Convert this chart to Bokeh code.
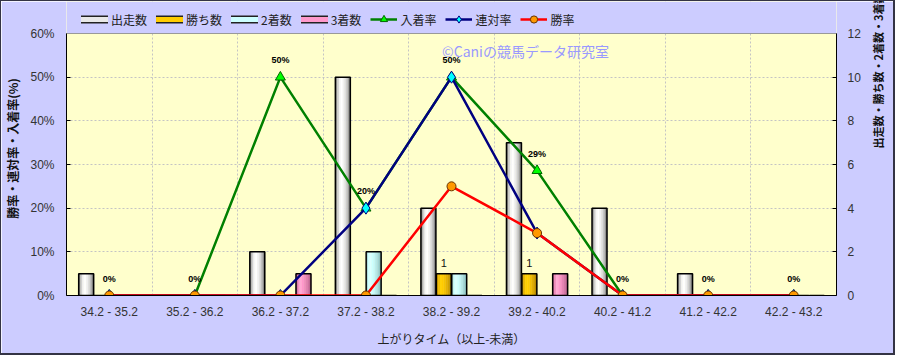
import numpy as np
from bokeh.plotting import figure
from bokeh.models import (Range1d, LinearAxis, FixedTicker, Legend, LegendItem, Label,
                          ColumnDataSource, LabelSet, CustomJSTickFormatter, PrintfTickFormatter,
                          BoxAnnotation, Span)
from bokeh.transform import dodge
from bokeh.core.properties import value
from bokeh.embed import file_html
from bokeh.resources import INLINE

# ---------------- data ----------------
categories = ["34.2 - 35.2", "35.2 - 36.2", "36.2 - 37.2", "37.2 - 38.2", "38.2 - 39.2",
              "39.2 - 40.2", "40.2 - 41.2", "41.2 - 42.2", "42.2 - 43.2"]
runs = [1, 0, 2, 10, 4, 7, 4, 1, 0]          # 出走数
wins = [0, 0, 0, 0, 1, 1, 0, 0, 0]           # 勝ち数
seconds = [0, 0, 0, 2, 1, 0, 0, 0, 0]        # 2着数
thirds = [0, 0, 1, 0, 0, 1, 0, 0, 0]         # 3着数
place_rate = [0, 0, 50, 20, 50, 28.6, 0, 0, 0]     # 入着率 (%)
quinella_rate = [0, 0, 0, 20, 50, 14.3, 0, 0, 0]   # 連対率 (%)
win_rate = [0, 0, 0, 0, 25, 14.3, 0, 0, 0]         # 勝率 (%)
place_labels = ["0%", "0%", "50%", "20%", "50%", "29%", "0%", "0%", "0%"]
win_labels = ["1" if w > 0 else "" for w in wins]

left_ticks = [0, 10, 20, 30, 40, 50, 60]
right_ticks = [0, 2, 4, 6, 8, 10, 12]
PCT_MAX = 60
CNT_MAX = 12

xpos = list(np.arange(len(categories)) + 0.5)
src = ColumnDataSource(dict(x=xpos, runs=runs, wins=wins, seconds=seconds, thirds=thirds,
                            place=place_rate, quin=quinella_rate, win=win_rate,
                            plabel=place_labels, wlabel=win_labels))

JP = "Noto Sans CJK JP"
NUM = "Liberation Sans"

# frame extends to the canvas top so the legend row sits inside it
FRAME_H = 294.0
PLOT_H = 262.0
top_pct = PCT_MAX * FRAME_H / PLOT_H
top_cnt = CNT_MAX * FRAME_H / PLOT_H

p = figure(width=895, height=355, x_range=Range1d(0, len(categories)),
           y_range=Range1d(0, top_pct),
           output_backend="svg", toolbar_location=None,
           min_border_left=64, min_border_right=52, min_border_top=0, min_border_bottom=61,
           background_fill_color="#FFFFCC", border_fill_color="#CCCCFF")
p.styles = {"border-left": "1px solid #333344", "border-top": "1px solid #333344",
            "border-right": "2px solid #333344", "border-bottom": "2px solid #333344"}
p.outline_line_color = None
p.extra_y_ranges = {"count": Range1d(0, top_cnt)}

# grids
p.xgrid.ticker = FixedTicker(ticks=list(range(len(categories) + 1)))
p.ygrid.ticker = FixedTicker(ticks=left_ticks)
for g in (p.xgrid, p.ygrid):
    g.grid_line_color = "#C4C4C4"
    g.grid_line_dash = "2 2"
    g.grid_line_width = 1

# lavender band above the plotting area (covers grid lines)
p.add_layout(BoxAnnotation(bottom=PCT_MAX, fill_color="#CCCCFF", fill_alpha=1,
                           line_color=None, level="underlay"))
p.add_layout(Span(location=PCT_MAX, dimension="width", line_color="#999999", line_width=1))

# axes
xa = p.xaxis[0]
xa.ticker = FixedTicker(ticks=xpos)
xa.formatter = CustomJSTickFormatter(args=dict(labels=categories),
                                     code="return labels[Math.floor(tick)]")
xa.major_tick_in = 0
xa.major_tick_out = 0
xa.minor_tick_line_color = None
xa.axis_line_color = "black"
xa.major_label_standoff = 9
xa.major_label_text_font = NUM
xa.major_label_text_font_size = "12px"
xa.major_label_text_color = "#333333"
xa.axis_label = "上がりタイム（以上-未満）"
xa.axis_label_text_font = JP
xa.axis_label_text_font_size = "12px"
xa.axis_label_text_font_style = "normal"
xa.axis_label_text_color = "#222222"
xa.axis_label_standoff = 8

ya = p.yaxis[0]
ya.ticker = FixedTicker(ticks=left_ticks)
ya.bounds = (0, PCT_MAX)
ya.formatter = PrintfTickFormatter(format="%d%%")
ya.major_tick_in = 4
ya.major_tick_out = 0
ya.minor_tick_line_color = None
ya.axis_line_color = "black"
ya.major_label_standoff = 12
ya.major_label_text_font = NUM
ya.major_label_text_font_size = "12px"
ya.major_label_text_color = "#333333"
ya.axis_label = "勝率・連対率・入着率(%)"
ya.axis_label_text_font = JP
ya.axis_label_text_font_size = "12px"
ya.axis_label_text_font_style = "bold"
ya.axis_label_text_color = "#111111"
ya.axis_label_standoff = 6

ra = LinearAxis(y_range_name="count", ticker=FixedTicker(ticks=right_ticks))
ra.bounds = (0, CNT_MAX)
ra.major_tick_in = 4
ra.major_tick_out = 0
ra.minor_tick_line_color = None
ra.axis_line_color = "black"
ra.major_label_standoff = 11
ra.major_label_text_font = NUM
ra.major_label_text_font_size = "12px"
ra.major_label_text_color = "#333333"
# centred on the axis mid-point, reading upward; trailing ideographic spaces push it down
ra.axis_label = "出走数・勝ち数・2着数・3着数" + "\u3000" * 4
ra.axis_label_text_font = JP
ra.axis_label_text_font_size = "11px"
ra.axis_label_text_font_style = "bold"
ra.axis_label_text_color = "#111111"
ra.axis_label_text_align = "center"
ra.axis_label_standoff = 14
if hasattr(ra, "axis_label_orientation"):
    ra.axis_label_orientation = np.pi / 2
p.add_layout(ra, "right")

# ---------------- bars with cylinder-like shading ----------------
bw = 0.175
bar_specs = [
    ("runs", -0.27, ["#8c8c8c", "#cfcfcf", "#f6f6f6", "#ffffff", "#f2f2f2", "#dedede", "#c0c0c0", "#8a8a8a"], "#e8e8e8"),
    ("wins", -0.09, ["#c89600", "#eebb00", "#ffd000", "#ffcc00", "#f6c300", "#e8b400", "#d6a400", "#b88c00"], "#ffcc00"),
    ("seconds", 0.09, ["#a8d8d8", "#d0ffff", "#dcffff", "#ccffff", "#c4f6f6", "#b6e8e8", "#a6d8d8", "#8cc0c0"], "#ccffff"),
    ("thirds", 0.27, ["#cc6699", "#f28ec0", "#ffaad6", "#ff99cc", "#f590c2", "#e684b4", "#d676a6", "#ba6290"], "#ff99cc"),
]
n_strips = 8
for col, off, shades, _ in bar_specs:
    for k, c in enumerate(shades):
        sx = off - bw / 2 + (k + 0.5) * bw / n_strips
        p.vbar(x=dodge("x", sx, range=p.x_range), top=col, width=bw / n_strips, bottom=0,
               source=src, y_range_name="count", fill_color=c, line_color=c, line_width=0.4)
    p.vbar(x=dodge("x", off, range=p.x_range), top=col, width=bw, bottom=0, source=src,
           y_range_name="count", fill_color=None, line_color="black", line_width=1.5)

# win count labels
p.add_layout(LabelSet(x=dodge("x", -0.09, range=p.x_range), y="wins", text="wlabel", source=src,
                      y_range_name="count", y_offset=7, text_align="center",
                      text_font=value(NUM), text_font_size="11px", text_color="#111111"))

# ---------------- lines ----------------
g_line = p.line("x", "place", source=src, line_color="#008000", line_width=2.5)
g_mark = p.scatter("x", "place", source=src, marker="triangle", size=10,
                   fill_color="#00FF00", line_color="#006600", line_width=1)
b_line = p.line("x", "quin", source=src, line_color="#000080", line_width=2.5)
b_mark = p.scatter("x", "quin", source=src, marker="diamond", size=12,
                   fill_color="#00FFFF", line_color="#000080", line_width=1)
r_line = p.line("x", "win", source=src, line_color="#FF0000", line_width=2.5)
r_mark = p.scatter("x", "win", source=src, marker="circle", size=9,
                   fill_color="#FF9900", line_color="#663300", line_width=1)

p.add_layout(LabelSet(x="x", y="place", text="plabel", source=src, y_offset=12,
                      text_align="center", text_font=value(NUM), text_font_size="9px",
                      text_font_style="bold", text_color="black"))

# watermark
p.add_layout(Label(x=4.39, y=56.1, text="©Caniの競馬データ研究室", text_font=JP,
                   text_font_size="14px", text_color="#9999FF", text_baseline="middle"))

# ---------------- legend ----------------
items = []
for (col, off, shades, mid), name in zip(bar_specs, ["出走数", "勝ち数", "2着数", "3着数"]):
    edge = p.line(x=[np.nan], y=[np.nan], line_color="#222222", line_width=8, line_cap="round")
    fill = p.line(x=[np.nan], y=[np.nan], line_color=mid, line_width=5, line_cap="round")
    items.append(LegendItem(label=name, renderers=[edge, fill]))
items.append(LegendItem(label="入着率", renderers=[g_line, g_mark]))
items.append(LegendItem(label="連対率", renderers=[b_line, b_mark]))
items.append(LegendItem(label="勝率", renderers=[r_line, r_mark]))

legend = Legend(items=items, orientation="horizontal", location=(15, 267),
                glyph_width=27, glyph_height=18, label_height=18, label_standoff=3,
                spacing=9, padding=2, margin=0, border_line_color=None,
                background_fill_alpha=0, label_text_font=JP, label_text_font_size="12px",
                label_text_color="#222222")
p.add_layout(legend, "center")

open("out.html", "w").write(file_html(p, INLINE))
